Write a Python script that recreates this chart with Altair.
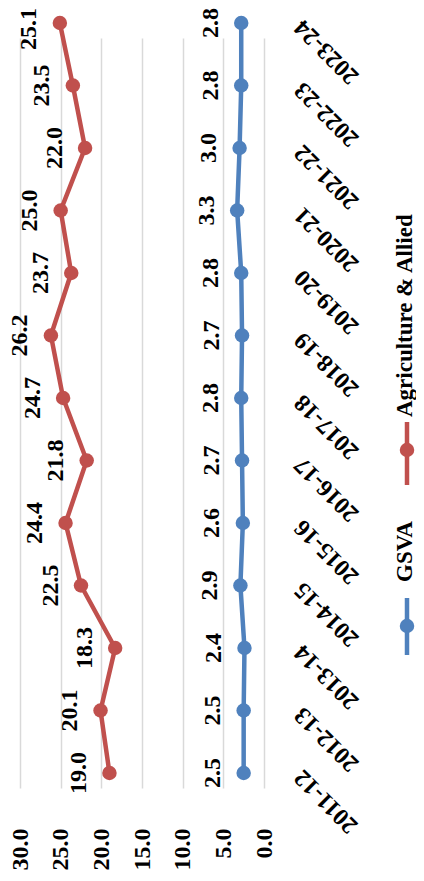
import altair as alt
import pandas as pd

years = ["2011-12", "2012-13", "2013-14", "2014-15", "2015-16", "2016-17",
         "2017-18", "2018-19", "2019-20", "2020-21", "2021-22", "2022-23", "2023-24"]
agri = [19.0, 20.1, 18.3, 22.5, 24.4, 21.8, 24.7, 26.2, 23.7, 25.0, 22.0, 23.5, 25.1]
gsva = [2.5, 2.5, 2.4, 2.9, 2.6, 2.7, 2.8, 2.7, 2.8, 3.3, 3.0, 2.8, 2.8]
series = ["Agriculture & Allied", "GSVA"]
colors = ["#C0504D", "#4F81BD"]
ticks = [0, 5, 10, 15, 20, 25, 30]

rows = []
for y, a, g in zip(years, agri, gsva):
    rows.append({"year": y, "series": series[0], "value": a})
    rows.append({"year": y, "series": series[1], "value": g})
df = pd.DataFrame(rows)

FONT = "Liberation Serif"
FS = 24
LFS = 23

xenc = alt.X("value:Q",
             scale=alt.Scale(domain=[0, 30], reverse=True, nice=False),
             axis=alt.Axis(values=ticks, format=".1f", title=None,
                           labelAngle=270, labelAlign="right", labelBaseline="middle",
                           labelPadding=25, ticks=False, domain=False,
                           grid=True, gridColor="#d9d9d9", gridWidth=1.5))
yenc = alt.Y("year:O", sort=years[::-1],
             scale=alt.Scale(type="point", range=[15, 765], padding=0),
             axis=alt.Axis(orient="right", title=None, labelAngle=225,
                           labelAlign="right", labelBaseline="middle",
                           labelPadding=34, ticks=False, domain=False, grid=False))
cenc = alt.Color("series:N", scale=alt.Scale(domain=series, range=colors), legend=None)

base = alt.Chart(df)
lines = base.mark_line(strokeWidth=4.5).encode(x=xenc, y=yenc, color=cenc, detail="series:N")
pts = base.mark_point(filled=True, shape="circle", size=210, opacity=1).encode(x=xenc, y=yenc, color=cenc)

top_edge = (alt.datum.year == years[-1]) & (alt.datum.series == series[0])
text_kw = dict(angle=270, align="center", baseline="middle", dy=-30.5,
               font=FONT, fontWeight="bold", fontSize=FS, color="black")
labels = base.transform_filter(~top_edge).mark_text(**text_kw).encode(
    x=xenc, y=yenc, text=alt.Text("value:Q", format=".1f"))
# the label at the very top is nudged down so it stays inside the drawing
labels_top = base.transform_filter(top_edge).mark_text(dx=-6, **text_kw).encode(
    x=xenc, y=yenc, text=alt.Text("value:Q", format=".1f"))

# manual legend (rotated like the rest of the chart)
LX = 387
TX = 385
leg = pd.DataFrame({"series": series})
leg_a = alt.Chart(leg).transform_filter(alt.datum.series == series[0])
leg_g = alt.Chart(leg).transform_filter(alt.datum.series == series[1])
legend_layers = [
    leg_a.mark_rule(strokeWidth=4.5, color=colors[0]).encode(
        x=alt.value(LX), y=alt.value(414), y2=alt.value(477)),
    leg_a.mark_point(filled=True, shape="circle", size=210, opacity=1, color=colors[0]).encode(
        x=alt.value(LX), y=alt.value(442)),
    leg_a.mark_text(angle=270, align="left", baseline="middle", font=FONT, fontWeight="bold",
                    fontSize=LFS, color="black").encode(
        x=alt.value(TX), y=alt.value(409), text="series:N"),
    leg_g.mark_rule(strokeWidth=4.5, color=colors[1]).encode(
        x=alt.value(LX), y=alt.value(590), y2=alt.value(647)),
    leg_g.mark_point(filled=True, shape="circle", size=210, opacity=1, color=colors[1]).encode(
        x=alt.value(LX), y=alt.value(618)),
    leg_g.mark_text(angle=270, align="left", baseline="middle", font=FONT, fontWeight="bold",
                    fontSize=LFS, color="black").encode(
        x=alt.value(TX), y=alt.value(574), text="series:N"),
]

chart = alt.layer(lines, pts, labels, labels_top, *legend_layers).properties(
    width=244, height=795,
    autosize=alt.AutoSizeParams(type="none"),
    padding={"left": 12, "top": 0, "right": 152, "bottom": 70},
    background="white",
).configure_view(stroke=None).configure_axis(
    labelFont=FONT, labelFontWeight="bold", labelFontSize=FS, labelColor="black",
    labelLimit=0, labelOverlap=False,
)

chart.save("out.html", embed_options={"renderer": "svg", "actions": False})
